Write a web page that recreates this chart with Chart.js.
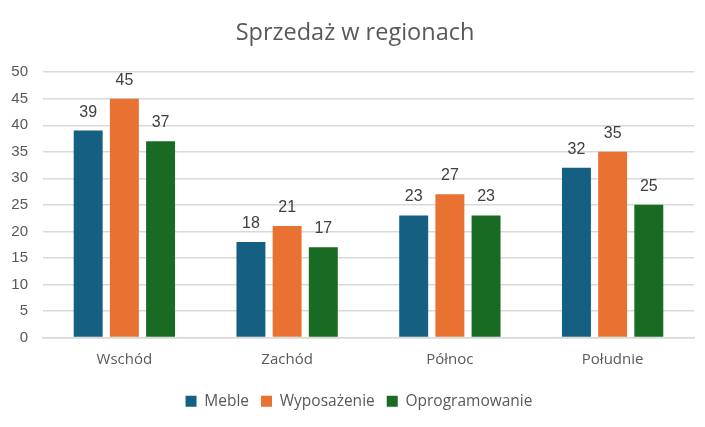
<!DOCTYPE html>
<html>
<head>
<meta charset="utf-8">
<script src="https://cdn.jsdelivr.net/npm/chart.js@4.4.1/dist/chart.umd.min.js"></script>
<style>
html,body{margin:0;padding:0;background:#fff;}
#wrap{width:705px;height:427px;position:relative;}
</style>
</head>
<body>
<div id="wrap"><canvas id="c"></canvas></div>
<script>
const categories = ["Wschód", "Zachód", "Północ", "Południe"];
const meble = [39, 18, 23, 32];
const wyposazenie = [45, 21, 27, 35];
const oprogramowanie = [37, 17, 23, 25];
const seriesNames = ["Meble", "Wyposażenie", "Oprogramowanie"];
const seriesColors = ["#156082", "#E97132", "#196B24"];
const yTicks = [0, 5, 10, 15, 20, 25, 30, 35, 40, 45, 50];

const labelPlugin = {
  id: 'valueLabels',
  afterLayout(chart) {
    if (chart.legend) { chart.legend.left += 12; chart.legend.right += 12; }
    if (chart.titleBlock) { chart.titleBlock.left += 8; chart.titleBlock.right += 8; }
  },
  afterDatasetsDraw(chart) {
    const ctx = chart.ctx;
    ctx.save();
    ctx.font = '16px "Liberation Sans", Arial, sans-serif';
    ctx.fillStyle = '#404040';
    ctx.textAlign = 'center';
    ctx.textBaseline = 'alphabetic';
    chart.data.datasets.forEach((ds, i) => {
      const meta = chart.getDatasetMeta(i);
      meta.data.forEach((bar, j) => {
        ctx.fillText(String(ds.data[j]), bar.x, bar.y - 14);
      });
    });
    ctx.restore();
  }
};

new Chart(document.getElementById('c'), {
  type: 'bar',
  data: {
    labels: categories,
    datasets: [meble, wyposazenie, oprogramowanie].map((d, i) => ({
      label: seriesNames[i],
      data: d,
      backgroundColor: seriesColors[i],
      borderWidth: 0,
      categoryPercentage: 0.667,
      barPercentage: 0.8
    }))
  },
  options: {
    responsive: true,
    maintainAspectRatio: false,
    animation: false,
    layout: { padding: { left: 0, right: 11, top: 0, bottom: 8 } },
    plugins: {
      title: {
        display: true,
        text: 'Sprzedaż w regionach',
        color: '#595959',
        font: { family: '"Open Sans", sans-serif', size: 23.5, weight: 'normal' },
        padding: { top: 19, bottom: 25 }
      },
      legend: {
        position: 'bottom',
        labels: {
          color: '#595959',
          font: { family: '"Open Sans", sans-serif', size: 15.5 },
          boxWidth: 11,
          boxHeight: 11,
          padding: 12
        }
      },
      tooltip: { enabled: false }
    },
    scales: {
      x: {
        grid: { display: false, drawTicks: false },
        border: { display: true, color: '#D9D9D9', width: 1.5 },
        ticks: {
          color: '#595959',
          font: { family: '"Open Sans", sans-serif', size: 15 },
          padding: 13
        }
      },
      y: {
        min: 0,
        max: 50,
        afterBuildTicks(axis) { axis.ticks = yTicks.map(v => ({ value: v })); },
        afterFit(axis) { axis.width = 43; },
        grid: { color: '#D9D9D9', lineWidth: 1.5, drawTicks: false },
        border: { display: false },
        ticks: {
          color: '#595959',
          font: { family: '"Liberation Sans", Arial, sans-serif', size: 15 },
          padding: 15
        }
      }
    }
  },
  plugins: [labelPlugin]
});
</script>
</body>
</html>
